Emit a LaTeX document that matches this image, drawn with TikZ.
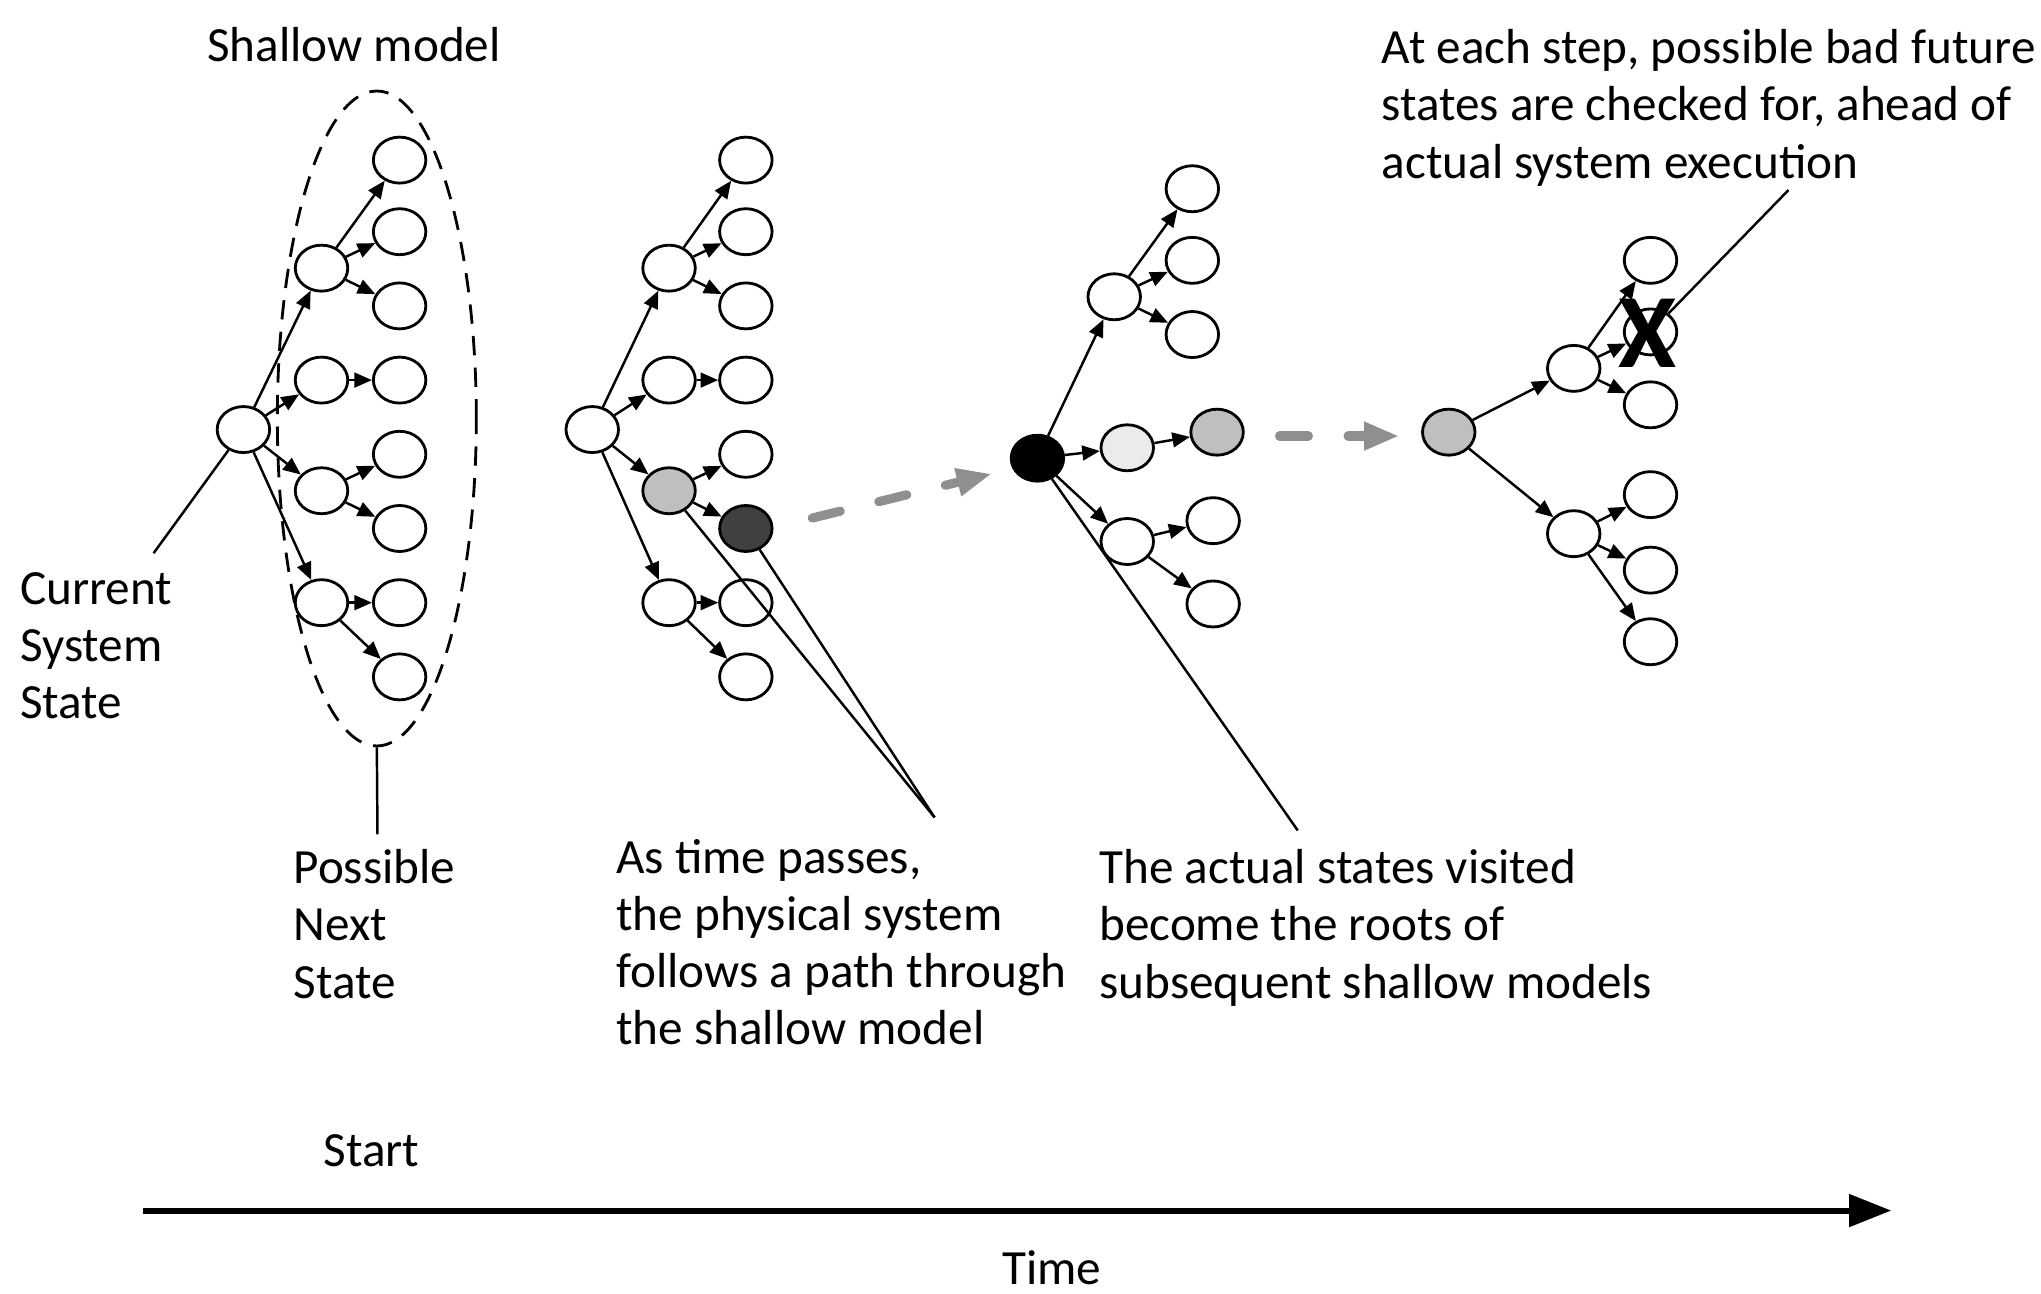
\documentclass[tikz,border=0pt]{standalone}
\usepackage{fontspec}
\setmainfont{Carlito}
\usetikzlibrary{shapes.geometric,arrows.meta}
\definecolor{stmid}{HTML}{BFBFBF}
\definecolor{stdark}{HTML}{404040}
\definecolor{stlight}{HTML}{EBEBEB}
\definecolor{pathgray}{HTML}{8F8F8F}

\begin{document}
\begin{tikzpicture}[
    x=0.13017mm, y=-0.13017mm,
    st/.style={draw, ellipse, line width=0.8pt, fill=white,
      minimum width=5.25mm, minimum height=4.6mm, inner sep=0pt},
    nx/.style={-{Triangle[length=5pt,width=4.2pt]}, line width=0.7pt},
    co/.style={line width=0.7pt},
    txt/.style={font=\fontsize{14}{16.3}\selectfont, align=left,
      inner sep=0pt, anchor=north west},
    jump/.style={draw=pathgray, line width=2.6pt, line cap=round,
      dash pattern=on 8.2pt off 11.3pt,
      -{Triangle[length=10pt,width=7.5pt]}},
    ]
    \useasboundingbox (0,0) rectangle (1568,994);
    % shallow model round the first state
    \node[draw, ellipse, line width=0.8pt, dash pattern=on 5.5pt off 3.5pt,
      minimum width=19.9mm, minimum height=65.5mm] (sm) at (289.5,321.5) {};
    % first tree
    \node[st] (r1) at (187,330) {};
    \node[st] (n1a) at (247,206) {};
    \node[st] (n1b) at (247,292) {};
    \node[st] (n1c) at (247,377) {};
    \node[st] (n1d) at (247,463) {};
    \node[st] (l1a) at (307,123) {};
    \node[st] (l1b) at (307,178) {};
    \node[st] (l1c) at (307,235) {};
    \node[st] (l1d) at (307,292) {};
    \node[st] (l1e) at (307,349) {};
    \node[st] (l1f) at (307,406) {};
    \node[st] (l1g) at (307,463) {};
    \node[st] (l1h) at (307,520) {};
    \draw[nx] (r1) edge (n1a) edge (n1b) edge (n1c) edge (n1d);
    \draw[nx] (n1a) edge (l1a) edge (l1b) edge (l1c);
    \draw[nx] (n1b) edge (l1d);
    \draw[nx] (n1c) edge (l1e) edge (l1f);
    \draw[nx] (n1d) edge (l1g) edge (l1h);
    % second tree
    \node[st] (r2) at (455,330) {};
    \node[st] (n2a) at (514,206) {};
    \node[st] (n2b) at (514,292) {};
    \node[st, fill=stmid] (n2c) at (514,377) {};
    \node[st] (n2d) at (514,463) {};
    \node[st] (l2a) at (573,123) {};
    \node[st] (l2b) at (573,178) {};
    \node[st] (l2c) at (573,235) {};
    \node[st] (l2d) at (573,292) {};
    \node[st] (l2e) at (573,349) {};
    \node[st, fill=stdark] (l2f) at (573,406) {};
    \node[st] (l2g) at (573,463) {};
    \node[st] (l2h) at (573,520) {};
    \draw[nx] (r2) edge (n2a) edge (n2b) edge (n2c) edge (n2d);
    \draw[nx] (n2a) edge (l2a) edge (l2b) edge (l2c);
    \draw[nx] (n2b) edge (l2d);
    \draw[nx] (n2c) edge (l2e) edge (l2f);
    \draw[nx] (n2d) edge (l2g) edge (l2h);
    % third tree
    \node[st, fill=black] (r3) at (797,352) {};
    \node[st] (n3a) at (856,228) {};
    \node[st, fill=stlight] (n3b) at (866,344) {};
    \node[st] (n3c) at (866,416) {};
    \node[st] (l3a) at (916,145) {};
    \node[st] (l3b) at (916,200) {};
    \node[st] (l3c) at (916,257) {};
    \node[st, fill=stmid] (l3d) at (935,332) {};
    \node[st] (l3e) at (932,400) {};
    \node[st] (l3f) at (932,464) {};
    \draw[nx] (r3) edge (n3a) edge (n3b) edge (n3c);
    \draw[nx] (n3a) edge (l3a) edge (l3b) edge (l3c);
    \draw[nx] (n3b) edge (l3d);
    \draw[nx] (n3c) edge (l3e) edge (l3f);
    % fourth tree
    \node[st, fill=stmid] (r4) at (1113,332) {};
    \node[st] (n4a) at (1209,283) {};
    \node[st] (n4b) at (1209,410) {};
    \node[st] (l4a) at (1268,200) {};
    \node[st] (l4b) at (1268,255) {};
    \node[st] (l4c) at (1268,311) {};
    \node[st] (l4d) at (1268,380) {};
    \node[st] (l4e) at (1268,438) {};
    \node[st] (l4f) at (1268,493) {};
    \draw[nx] (r4) edge (n4a) edge (n4b);
    \draw[nx] (n4a) edge (l4a) edge (l4b) edge (l4c);
    \draw[nx] (n4b) edge (l4d) edge (l4e) edge (l4f);
    \node[font=\fontsize{30}{30}\bfseries\selectfont, inner sep=0pt]
      (bad) at (1266,256) {X};
    % moves of the physical system
    \coordinate (g1) at (624,398);
    \coordinate (g2) at (762,364);
    \coordinate (g3) at (983,335);
    \coordinate (g4) at (1075,335);
    \draw[jump] (g1) -- (g2);
    \draw[jump] (g3) -- (g4);
    % labels and callouts
    \node[txt, anchor=base] (shallow) at (272,47.5) {Shallow model};
    \node[txt] (cur) at (15,439) {Current\\System\\State};
    \node[txt] (poss) at (225,652) {Possible\\Next\\State};
    \node[txt] (pass) at (473,644)
      {As time passes,\\the physical system\\follows a path through\\the shallow model};
    \node[txt] (roots) at (844,652)
      {The actual states visited\\become the roots of\\subsequent shallow models};
    \node[txt] (check) at (1061,22)
      {At each step, possible bad future\\states are checked for, ahead of\\actual system execution};
    \coordinate (c1) at (118,425);
    \coordinate (c2) at (290,641);
    \coordinate (c3) at (718,628);
    \coordinate (c4) at (997,638);
    \coordinate (c5) at (1374,146);
    \draw[co] (c1) -- (r1);
    \draw[co] (sm.south) -- (c2);
    \draw[co] (c3) -- (n2c);
    \draw[co] (c3) -- (l2f);
    \draw[co] (c4) -- (r3);
    \draw[co] (c5) -- (l4b);
    % time axis
    \coordinate (t0) at (110,930);
    \coordinate (t1) at (1453,930);
    \draw[line width=1.7pt, -{Triangle[length=12pt,width=9pt]}] (t0) -- (t1);
    \node[txt, anchor=base] (start) at (285.5,896.5) {Start};
    \node[txt, anchor=base] (time) at (808,987) {Time};
\end{tikzpicture}
\end{document}
